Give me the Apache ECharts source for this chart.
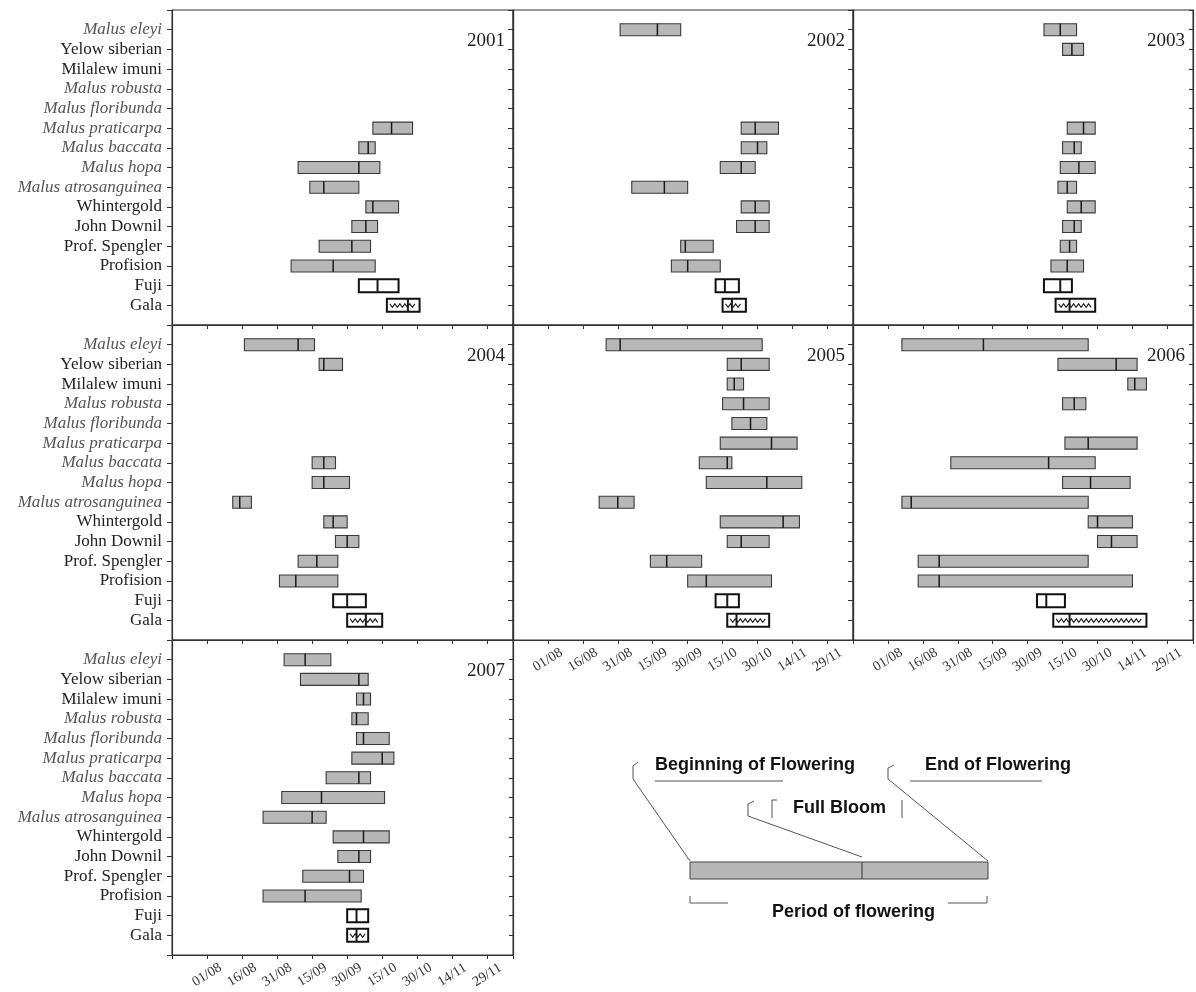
<!DOCTYPE html>
<html>
<head>
<meta charset="utf-8">
<script src="https://cdn.jsdelivr.net/npm/echarts@6/dist/echarts.min.js"></script>
<style>
  html, body { margin: 0; background: #fff; }
  #chart { width: 1196px; height: 992px; }
</style>
</head>
<body>
<div id="chart"></div>
<script>
// rows, top to bottom
const categories = [
  'Malus eleyi', 'Yelow siberian', 'Milalew imuni', 'Malus robusta', 'Malus floribunda',
  'Malus praticarpa', 'Malus baccata', 'Malus hopa', 'Malus atrosanguinea', 'Whintergold',
  'John Downil', 'Prof. Spengler', 'Profision', 'Fuji', 'Gala',
];
// x ticks every 15 days, starting 1 August
const tickLabels = ['01/08', '16/08', '31/08', '15/09', '30/09', '15/10', '30/10', '14/11', '29/11'];
const years = ['2001', '2002', '2003', '2004', '2005', '2006', '2007'];

// [beginning, full bloom, end] of flowering, in days after 1 August (null = not recorded)
const flowering2001 = [null, null, null, null, null, [71, 79, 88], [65, 69, 72], [39, 65, 74], [44, 50, 65], [68, 71, 82], [62, 68, 73], [48, 62, 70], [36, 54, 72], [65, 73, 82], [77, 86, 91]];
const flowering2002 = [[31, 47, 57], null, null, null, null, [83, 89, 99], [83, 90, 94], [74, 83, 89], [36, 50, 60], [83, 89, 95], [81, 89, 95], [57, 59, 71], [53, 60, 74], [72, 76, 82], [75, 79, 85]];
const flowering2003 = [[67, 74, 81], [75, 79, 84], null, null, null, [77, 84, 89], [75, 80, 83], [74, 82, 89], [73, 77, 81], [77, 83, 89], [75, 80, 83], [74, 78, 81], [70, 77, 84], [67, 74, 79], [72, 78, 89]];
const flowering2004 = [[16, 39, 46], [48, 50, 58], null, null, null, null, [45, 50, 55], [45, 50, 61], [11, 14, 19], [50, 54, 60], [55, 60, 65], [39, 47, 56], [31, 38, 56], [54, 60, 68], [60, 68, 75]];
const flowering2005 = [[25, 31, 92], [77, 83, 95], [77, 80, 84], [75, 84, 95], [79, 87, 94], [74, 96, 107], [65, 77, 79], [68, 94, 109], [22, 30, 37], [74, 101, 108], [77, 83, 95], [44, 51, 66], [60, 68, 96], [72, 77, 82], [77, 81, 95]];
const flowering2006 = [[6, 41, 86], [73, 98, 107], [103, 106, 111], [75, 80, 85], null, [76, 86, 107], [27, 69, 89], [75, 87, 104], [6, 10, 86], [86, 90, 105], [90, 96, 107], [13, 22, 86], [13, 22, 105], [64, 68, 76], [71, 78, 111]];
const flowering2007 = [[33, 42, 53], [40, 65, 69], [64, 67, 70], [62, 64, 69], [64, 67, 78], [62, 75, 80], [51, 65, 70], [32, 49, 76], [24, 45, 51], [54, 67, 78], [56, 65, 70], [41, 61, 67], [24, 42, 66], [60, 64, 69], [60, 64, 69]];
const floweringByYear = [flowering2001, flowering2002, flowering2003, flowering2004, flowering2005, flowering2006, flowering2007];

const SERIF = '"Liberation Serif", "DejaVu Serif", serif';
const SANS = '"Liberation Sans", Arial, sans-serif';
const PANEL_H = 315;

// panel boxes in a 3x3 layout (last two cells: legend sketch)
const panels = [
  { left: 172, top: 10, width: 341, yLabels: true },
  { left: 513, top: 10, width: 340 },
  { left: 853, top: 10, width: 340 },
  { left: 172, top: 325, width: 341, yLabels: true },
  { left: 513, top: 325, width: 340, xLabels: true },
  { left: 853, top: 325, width: 340, xLabels: true },
  { left: 172, top: 640, width: 341, yLabels: true, xLabels: true },
];

const renderBar = (params, api) => {
  const row = api.value(0);
  const a = api.coord([api.value(1), row]);
  const f = api.coord([api.value(2), row]);
  const b = api.coord([api.value(3), row]);
  const name = categories[row - 1];
  const cultivar = name === 'Fuji' || name === 'Gala';
  const h = cultivar ? 13 : 12;
  const y = a[1] - h / 2;
  const children = [{
    type: 'rect',
    shape: { x: a[0], y, width: b[0] - a[0], height: h },
    style: cultivar
      ? { fill: '#fff', stroke: '#111', lineWidth: 2 }
      : { fill: '#b7b7b7', stroke: '#3a3a3a', lineWidth: 1.1 },
  }];
  if (name === 'Gala') {
    // wavy hatch of the Gala bars
    const pts = [];
    for (let x = a[0] + 3, k = 0; x <= b[0] - 3; x += 2.5, k += 1) {
      pts.push([x, a[1] + (k % 2 ? 2 : -1.5)]);
    }
    children.push({ type: 'polyline', shape: { points: pts }, style: { stroke: '#222', lineWidth: 1.1, fill: null } });
  }
  children.push({
    type: 'line',
    shape: { x1: f[0], y1: y, x2: f[0], y2: y + h },
    style: { stroke: '#1a1a1a', lineWidth: cultivar ? 2 : 1.5 },
  });
  return { type: 'group', children };
};

const yLabelFormatter = (v) => {
  const n = categories[v - 1];
  if (!n) return '';
  return n.startsWith('Malus') ? `{it|${n}}` : `{rm|${n}}`;
};
const xLabelFormatter = (v) => (v >= 0 && v % 15 === 0 && tickLabels[v / 15]) || '';

const grid = [];
const xAxis = [];
const yAxis = [];
const series = [];
const graphic = [];

panels.forEach((p, i) => {
  grid.push({
    left: p.left, top: p.top, width: p.width, height: PANEL_H,
    show: true, borderColor: '#333', borderWidth: 1,
  });
  xAxis.push({
    type: 'value', gridIndex: i, min: -15, max: 131, interval: 15,
    axisLine: { show: true, onZero: false, lineStyle: { color: '#333', width: 1.2 } },
    axisTick: { show: true, length: 4, lineStyle: { color: '#333' } },
    splitLine: { show: false },
    axisLabel: {
      show: !!p.xLabels, formatter: xLabelFormatter, rotate: 32,
      align: 'center', verticalAlign: 'middle', margin: 20,
      fontFamily: SERIF, fontSize: 14, color: '#333',
    },
  });
  const yBase = {
    type: 'value', gridIndex: i, inverse: true, min: 0, max: 16, interval: 1,
    axisLine: { show: true, onZero: false, lineStyle: { color: '#333', width: 1.2 } },
    splitLine: { show: false },
  };
  yAxis.push({
    ...yBase, position: 'left',
    axisTick: { show: true, length: 5, lineStyle: { color: '#333' } },
    axisLabel: {
      show: !!p.yLabels, formatter: yLabelFormatter, margin: 10,
      rich: {
        it: { fontFamily: SERIF, fontSize: 17, fontStyle: 'italic', color: '#555' },
        rm: { fontFamily: SERIF, fontSize: 17, color: '#222' },
      },
    },
  });
  yAxis.push({
    ...yBase, position: 'right',
    axisTick: { show: true, inside: true, length: 4, lineStyle: { color: '#333' } },
    axisLabel: { show: false },
  });
  series.push({
    type: 'custom', name: years[i], xAxisIndex: i, yAxisIndex: 2 * i,
    renderItem: renderBar,
    encode: { x: [1, 2, 3], y: 0 },
    data: floweringByYear[i]
      .map((v, r) => (v ? [r + 1, v[0], v[1], v[2]] : null))
      .filter(Boolean),
  });
  graphic.push({
    type: 'text', right: 1196 - (p.left + p.width) + 8, top: p.top + 22,
    style: { text: years[i], font: `19px ${SERIF}`, fill: '#222' },
  });
});

// legend sketch of one bar
const ink = { stroke: '#555', lineWidth: 1, fill: null };
const label = (text, x, y) => ({
  type: 'text', x, y,
  style: { text, font: `bold 18px ${SANS}`, fill: '#111', textVerticalAlign: 'middle' },
});
graphic.push(
  { type: 'rect', shape: { x: 690, y: 862, width: 298, height: 17 }, style: { fill: '#b7b7b7', stroke: '#444', lineWidth: 1 } },
  { type: 'line', shape: { x1: 862, y1: 862, x2: 862, y2: 879 }, style: { stroke: '#333', lineWidth: 1 } },
  label('Beginning of Flowering', 655, 765),
  { type: 'line', shape: { x1: 655, y1: 781, x2: 783, y2: 781 }, style: ink },
  { type: 'polyline', shape: { points: [[638, 762], [633, 766], [633, 779], [690, 861]] }, style: ink },
  label('End of Flowering', 925, 765),
  { type: 'line', shape: { x1: 910, y1: 781, x2: 1042, y2: 781 }, style: ink },
  { type: 'polyline', shape: { points: [[894, 765], [888, 768], [888, 779], [988, 861]] }, style: ink },
  label('Full Bloom', 793, 808),
  { type: 'polyline', shape: { points: [[777, 800], [772, 800], [772, 818]] }, style: ink },
  { type: 'line', shape: { x1: 902, y1: 800, x2: 902, y2: 818 }, style: ink },
  { type: 'polyline', shape: { points: [[754, 801], [748, 804], [748, 816], [862, 857]] }, style: ink },
  label('Period of flowering', 772, 912),
  { type: 'polyline', shape: { points: [[690, 896], [690, 903], [728, 903]] }, style: ink },
  { type: 'polyline', shape: { points: [[948, 903], [987, 903], [987, 896]] }, style: ink },
);

const chart = echarts.init(document.getElementById('chart'), null, { renderer: 'canvas' });
chart.setOption({
  backgroundColor: '#fff',
  animation: false,
  grid, xAxis, yAxis, series, graphic,
});
window.addEventListener('resize', () => chart.resize());
</script>
</body>
</html>
